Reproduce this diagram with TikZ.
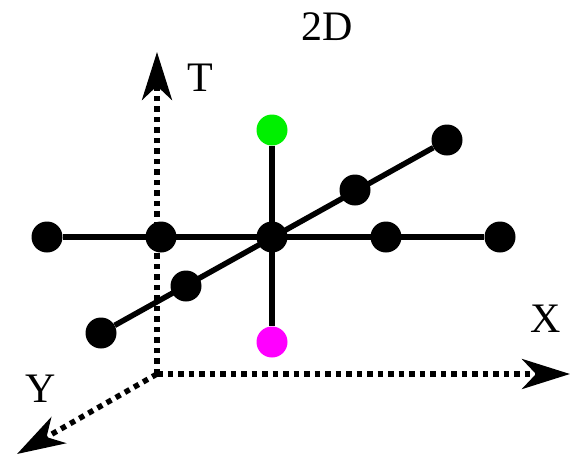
\documentclass[tikz,border=0pt]{standalone}
\usepackage{fontspec}
\setmainfont{Liberation Serif}
\usetikzlibrary{arrows.meta}
\definecolor{dotgreen}{RGB}{0,240,0}
\definecolor{dotmagenta}{RGB}{255,0,255}

\begin{document}
\begin{tikzpicture}[
  x=1pt, y=-1pt,
  font=\fontsize{42}{46}\selectfont,
  dot/.style={circle, fill=black, inner sep=0pt, minimum size=31pt},
  axis/.style={line width=5.5pt, dash pattern=on 5.5pt off 5pt,
    -{Stealth[length=48pt, width=30pt, inset=14pt]}},
  rod/.style={line width=5.5pt}
]
\useasboundingbox (0,0) rectangle (571,456);
% axes
\coordinate (o) at (157,374);
\coordinate (t) at (157,52);
\coordinate (x) at (570,374);
\coordinate (y) at (17,454);
\draw[axis] (o) -- (t);
\draw[axis] (o) -- (x);
\draw[axis] (o) -- (y);
\node (tlab) at (200,78) {T};
\node (xlab) at (546,319) {X};
\node (ylab) at (41,389) {Y};
\node (title) at (327,27) {2D};
% points
\node[dot] (h1) at (47,237) {};
\node[dot] (h2) at (161,237) {};
\node[dot] (c) at (272,237) {};
\node[dot] (h4) at (386,237) {};
\node[dot] (h5) at (500,237) {};
\node[dot] (d1) at (101,333) {};
\node[dot] (d2) at (186,286) {};
\node[dot] (d4) at (355,190) {};
\node[dot] (d5) at (447,140) {};
\node[dot, fill=dotgreen] (tp) at (272,130) {};
\node[dot, fill=dotmagenta] (tm) at (272,342) {};
% stencil
\draw[rod] (h1) -- (h5);
\draw[rod] (d1) -- (d5);
\draw[rod] (tp) -- (tm);
\end{tikzpicture}
\end{document}
